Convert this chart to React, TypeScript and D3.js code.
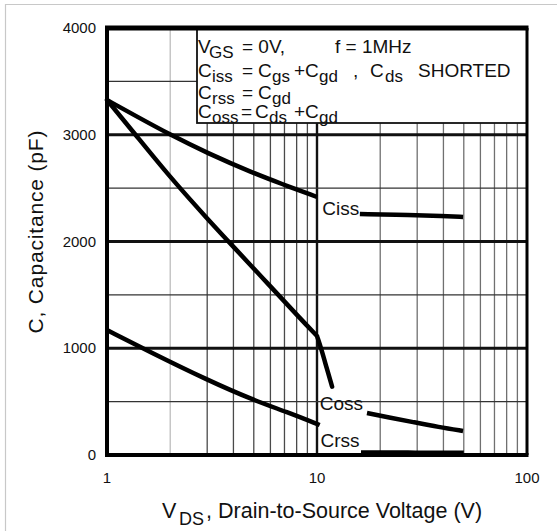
import * as d3 from "d3";

// capacitance vs drain-source voltage
const cissLow: [number, number][] = [[1, 3325], [1.4, 3166], [2, 3000], [3, 2829], [5, 2639], [6.7, 2544], [10, 2417]];
const cissHigh: [number, number][] = [[16, 2258], [28, 2248], [39.8, 2239], [49.6, 2230]];
const cossLow: [number, number][] = [[1, 3325], [1.33, 3030], [2, 2600], [3, 2215], [4, 1950], [5.8, 1611], [8.3, 1280], [10, 1115]];
const cossDrop: [number, number][] = [[10, 1115], [10.5, 990], [11.1, 820], [11.8, 640]];
const cossHigh: [number, number][] = [[17.3, 393], [22, 352], [28.6, 309], [38, 262], [49.6, 225]];
const crssLow: [number, number][] = [[1, 1171], [1.6, 965], [3.0, 703], [4.96, 515], [7.2, 403], [10.3, 281]];
const crssHigh: [number, number][] = [[16.2, 24], [30, 22], [50, 21]];

const curveLabels = [
  { name: "Ciss", v: 10.6, c: 2248 },
  { name: "Coss", v: 10.3, c: 421 },
  { name: "Crss", v: 10.4, c: 75 },
];

const xTickLabels = [1, 10, 100];
const xMinorLow = [2, 3, 4, 5, 6, 7, 8, 9];
const xMinorHigh = [20, 30, 40, 50, 60, 70, 80, 90];
const yTickLabels = [0, 1000, 2000, 3000, 4000];
const yMajor = [1000, 2000, 3000];
const yMinor = [500, 1500, 2500, 3500];

// legend rows: [text, subscript?, x]
const legendRows: { y: number; parts: [string, boolean, number][] }[] = [
  { y: 53, parts: [["V", false, 198], ["GS", true, 209], ["= 0V,", false, 242], ["f = 1MHz", false, 335]] },
  { y: 77, parts: [["C", false, 198], ["iss", true, 212], ["=", false, 242], ["C", false, 258], ["gs", true, 272], ["+", false, 294], ["C", false, 305], ["gd", true, 319], [",", false, 353], ["C", false, 370], ["ds", true, 385], ["SHORTED", false, 418]] },
  { y: 99, parts: [["C", false, 198], ["rss", true, 212], ["=", false, 242], ["C", false, 258], ["gd", true, 272]] },
  { y: 118, parts: [["C", false, 198], ["oss", true, 212], ["=", false, 241], ["C", false, 255], ["ds", true, 269], ["+", false, 294], ["C", false, 305], ["gd", true, 319]] },
];

const FONT = "'Liberation Sans', Arial, Helvetica, sans-serif";

export default function App() {
  const W = 557;
  const H = 531;
  const left = 107, right = 527, top = 28, bottom = 455;

  const x = d3.scaleLog().domain([1, 100]).range([left, right]);
  const y = d3.scaleLinear().domain([0, 4000]).range([bottom, top]);

  const line = d3
    .line<[number, number]>()
    .x(d => x(d[0]))
    .y(d => y(d[1]))
    .curve(d3.curveBasis);

  const curves = [cissLow, cissHigh, cossHigh, crssLow, crssHigh];

  return (
    <svg width={W} height={H} style={{ position: "absolute", left: 0, top: 0, background: "#fff" }} fontFamily={FONT}>
      {/* faint outer border */}
      <line x1={5} x2={W} y1={4.5} y2={4.5} stroke="#c8c8c8" strokeWidth={1.2} />
      <line x1={5.5} x2={5.5} y1={4} y2={H} stroke="#c8c8c8" strokeWidth={1.2} />

      {/* minor vertical grid */}
      {xMinorLow.map(v => (
        <line key={"vx" + v} x1={x(v)} x2={x(v)} y1={top} y2={bottom}
          stroke={v === 2 ? "#bdbdbd" : "#4a4a4a"} strokeWidth={1.3} />
      ))}
      {xMinorHigh.map(v => (
        <line key={"vX" + v} x1={x(v)} x2={x(v)} y1={top} y2={bottom} stroke="#707070" strokeWidth={1.3} />
      ))}
      <line x1={x(10)} x2={x(10)} y1={top} y2={bottom} stroke="#111" strokeWidth={2.4} />

      {/* horizontal grid */}
      {yMinor.map(v => (
        <line key={"hy" + v} x1={left} x2={right} y1={y(v)} y2={y(v)} stroke="#333" strokeWidth={1.4} />
      ))}
      {yMajor.map(v => (
        <line key={"Hy" + v} x1={left} x2={right} y1={y(v)} y2={y(v)} stroke="#111" strokeWidth={2.8} />
      ))}

      {/* legend box */}
      <rect x={197} y={top} width={right - 197} height={95} fill="#fff" stroke="#111" strokeWidth={1.8} />
      <g fill="#111">
        {legendRows.map((row, i) =>
          row.parts.map(([t, isSub, px], j) => (
            <text key={i + "-" + j} x={px} y={row.y + (isSub ? 5 : 0)} fontSize={isSub ? 17 : 19}>{t}</text>
          ))
        )}
      </g>

      {/* curves */}
      {curves.map((c, i) => (
        <path key={i} d={line(c) ?? ""} fill="none" stroke="#000" strokeWidth={4.5} strokeLinejoin="round" />
      ))}
      <path d={(line(cossLow) ?? "") + (line(cossDrop) ?? "")} fill="none" stroke="#000" strokeWidth={4.5}
        strokeLinejoin="round" strokeLinecap="round" />
      {curveLabels.map(l => (
        <text key={l.name} x={x(l.v)} y={y(l.c)} fontSize={19} fill="#111">{l.name}</text>
      ))}

      {/* frame */}
      <line x1={left - 2} x2={right + 1.5} y1={top} y2={top} stroke="#000" strokeWidth={5} />
      <line x1={left - 2} x2={right + 1.5} y1={bottom} y2={bottom} stroke="#000" strokeWidth={4} />
      <line x1={left} x2={left} y1={top} y2={bottom} stroke="#000" strokeWidth={4} />
      <line x1={right} x2={right} y1={top} y2={bottom} stroke="#000" strokeWidth={3} />

      {/* tick labels */}
      {yTickLabels.map(v => (
        <text key={"yl" + v} x={96} y={y(v) + 5} textAnchor="end" fontSize={15} fill="#111">{v}</text>
      ))}
      {xTickLabels.map(v => (
        <text key={"xl" + v} x={x(v)} y={483} textAnchor="middle" fontSize={15} fill="#111">{v}</text>
      ))}

      {/* axis titles */}
      <g fill="#111">
        <text x={162} y={518} fontSize={21.5}>V</text>
        <text x={179} y={525} fontSize={18}>DS</text>
        <text x={206} y={518} fontSize={21.5}>,</text>
        <text x={218} y={518} fontSize={21.5}>Drain-to-Source Voltage (V)</text>
      </g>
      <text transform="translate(43,232) rotate(-90)" textAnchor="middle" fontSize={21} fill="#111"
        textLength={203} lengthAdjust="spacing">
        C, Capacitance (pF)
      </text>
    </svg>
  );
}
